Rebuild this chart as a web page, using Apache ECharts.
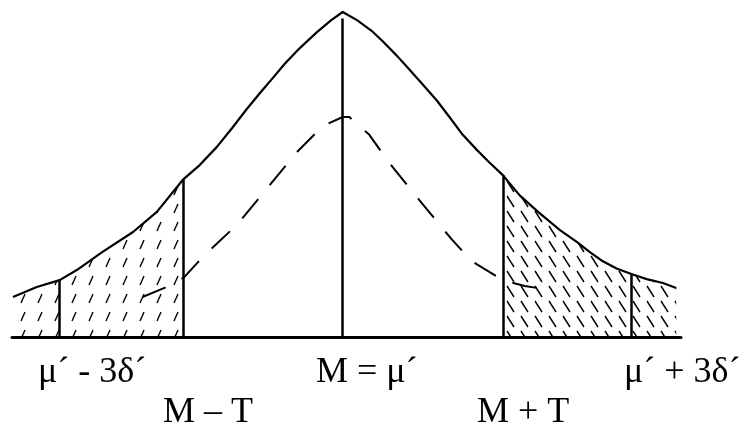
<!DOCTYPE html>
<html>
<head>
<meta charset="utf-8">
<script src="https://cdn.jsdelivr.net/npm/echarts@6/dist/echarts.min.js"></script>
<style>
  html, body { margin: 0; padding: 0; background: #fff; }
  #chart { width: 745px; height: 432px; }
</style>
</head>
<body>
<div id="chart"></div>
<script>
// x in units of delta' (0 = mean), y as share of the peak height
const solidX = [-3.46, -3.21, -2.97, -2.79, -2.52, -2.20, -1.95, -1.67, -1.50, -1.32, -1.16, -1.01, -0.87, -0.73, -0.61, -0.45, -0.27, -0.12, 0,
  0.15, 0.30, 0.42, 0.57, 0.70, 0.84, 0.99, 1.12, 1.26, 1.41, 1.54, 1.68, 1.86, 2.05, 2.28, 2.46, 2.59, 2.73, 2.88, 3.03, 3.19, 3.36, 3.50]
const solidY = [0.123, 0.154, 0.175, 0.206, 0.262, 0.323, 0.385, 0.486, 0.529, 0.585, 0.643, 0.700, 0.750, 0.798, 0.840, 0.889, 0.938, 0.975, 1.0,
  0.975, 0.943, 0.910, 0.865, 0.823, 0.777, 0.727, 0.677, 0.622, 0.575, 0.537, 0.498, 0.435, 0.385, 0.329, 0.292, 0.262, 0.233, 0.210, 0.194, 0.178, 0.166, 0.151]

const dashX = [-2.10, -1.87, -1.67, -1.45, -1.11, -0.80, -0.48, -0.21, 0, 0.07, 0.28, 0.49, 0.83, 1.14, 1.35, 1.68, 1.91, 2.17]
const dashY = [0.123, 0.151, 0.182, 0.252, 0.345, 0.455, 0.569, 0.649, 0.677, 0.677, 0.622, 0.535, 0.412, 0.302, 0.234, 0.175, 0.157, 0.145]

// vertical markers: mu'-3d', M-T, M, M+T, mu'+3d'
const markX = [-2.97, -1.67, 0, 1.68, 3.03]
const markTop = [0.175, 0.486, 0.98, 0.498, 0.194]

const upperLabels = ['μ´ - 3δ´', 'M = μ´', 'μ´ + 3δ´']
const lowerLabels = ['M – T', 'M + T']

const TAIL_LEFT = -1.67
const TAIL_RIGHT = 1.68

const hatch = (dir) => {
  const c = document.createElement('canvas')
  const ctx = c.getContext('2d')
  if (dir === 'left') {
    c.width = 17
    c.height = 18
    ctx.strokeStyle = '#000'
    ctx.lineWidth = 1.4
    ctx.beginPath()
    ctx.moveTo(4, 15)
    ctx.lineTo(8, 6)
  } else {
    c.width = 14
    c.height = 15
    ctx.strokeStyle = '#000'
    ctx.lineWidth = 1.4
    ctx.beginPath()
    ctx.moveTo(3, 1)
    ctx.lineTo(10, 12)
  }
  ctx.stroke()
  return c
}

const solid = solidX.map((x, i) => [x, solidY[i]])
const dashed = dashX.map((x, i) => [x, dashY[i]])
const leftTail = solid.filter(p => p[0] <= TAIL_LEFT)
const rightTail = solid.filter(p => p[0] >= TAIL_RIGHT)

const textStyle = { fill: '#000', fontFamily: '"Liberation Serif", "DejaVu Serif", serif', fontSize: 36 }
const label = (text, left, y) => ({
  type: 'text', left, top: y,
  style: Object.assign({ text }, textStyle)
})

const chart = echarts.init(document.getElementById('chart'))
chart.setOption({
  animation: false,
  backgroundColor: '#fff',
  grid: { left: 12, right: 64, top: 12, bottom: 95 },
  xAxis: {
    type: 'value', min: -3.47, max: 3.55,
    axisLine: { show: true, onZero: false, lineStyle: { color: '#000', width: 3 } },
    axisTick: { show: false }, axisLabel: { show: false }, splitLine: { show: false }
  },
  yAxis: { type: 'value', min: 0, max: 1, show: false },
  series: [
    {
      type: 'line', data: leftTail, symbol: 'none', lineStyle: { width: 0 },
      areaStyle: { color: { image: hatch('left'), repeat: 'repeat' }, opacity: 1 }
    },
    {
      type: 'line', data: rightTail, symbol: 'none', lineStyle: { width: 0 },
      areaStyle: { color: { image: hatch('right'), repeat: 'repeat' }, opacity: 1 }
    },
    {
      type: 'line', data: dashed, symbol: 'none',
      lineStyle: { color: '#000', width: 2, type: [25, 18] }
    },
    {
      type: 'line', data: solid, symbol: 'none',
      lineStyle: { color: '#000', width: 2.2 },
      markLine: {
        silent: true, symbol: 'none', label: { show: false },
        lineStyle: { color: '#000', width: 2.5, type: 'solid' },
        data: markX.map((x, i) => [{ coord: [x, 0] }, { coord: [x, markTop[i]] }])
      }
    }
  ],
  graphic: [
    label(upperLabels[0], 38, 355),
    label(upperLabels[1], 316, 355),
    label(upperLabels[2], 624, 355),
    label(lowerLabels[0], 163, 395),
    label(lowerLabels[1], 477, 395)
  ]
})
</script>
</body>
</html>
